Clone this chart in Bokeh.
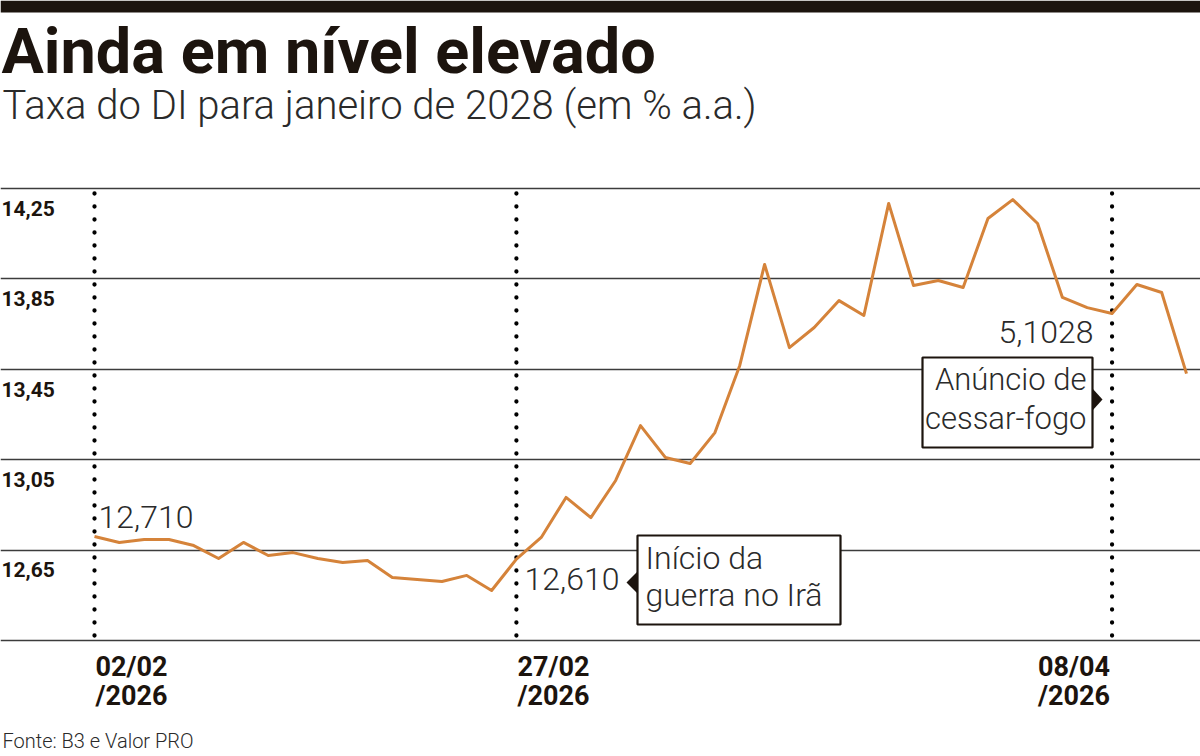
from bokeh.plotting import figure
from bokeh.models import Range1d, Grid, FixedTicker, Label, BoxAnnotation, PolyAnnotation
from bokeh.core.properties import value
from bokeh.embed import file_html
from bokeh.resources import INLINE

# ---------------- data ----------------
title_text = "Ainda em nível elevado"
subtitle_text = "Taxa do DI para janeiro de 2028 (em % a.a.)"
source_text = "Fonte: B3 e Valor PRO"

rates = [12.71, 12.684, 12.697, 12.697, 12.670, 12.613, 12.684, 12.626, 12.639, 12.613,
         12.595, 12.604, 12.529, 12.520, 12.511, 12.538, 12.471, 12.61, 12.706, 12.883,
         12.794, 12.958, 13.201, 13.060, 13.033, 13.170, 13.467, 13.914, 13.546, 13.635,
         13.754, 13.688, 14.184, 13.821, 13.843, 13.812, 14.117, 14.201, 14.095, 13.768,
         13.723, 13.697, 13.825, 13.790, 13.431]
day_index = list(range(len(rates)))

grid_values = [12.25, 12.65, 13.05, 13.45, 13.85, 14.25]
tick_values = [12.65, 13.05, 13.45, 13.85, 14.25]
tick_labels = ["12,65", "13,05", "13,45", "13,85", "14,25"]

event_index = [0, 17, 41]
event_day = ["02/02", "27/02", "08/04"]
event_year = ["/2026", "/2026", "/2026"]

first_label = "12,710"
war_label = "12,610"
ceasefire_label = "5,1028"
war_note = ["Início da", "guerra no Irã"]
ceasefire_note = ["Anúncio de", "cessar-fogo"]

# ---------------- layout ----------------
W, H = 1200, 756
PXU = (1186 - 94) / 44.0      # pixels per trading day
PPU = 226.0                   # pixels per percentage point
x_start = -94 / PXU
x_end = (W - 94) / PXU
y_top_val = 14.25 + 188 / PPU
y_bot_val = 14.25 - (H - 188) / PPU

INK = "#1c140e"
TXT = "#2a2a2a"
ORANGE = "#d5833a"
LIGHT = "Roboto Light"
K = 0.33  # baseline correction factor

p = figure(width=W, height=H, x_range=Range1d(x_start, x_end), y_range=Range1d(y_bot_val, y_top_val),
           min_border=0, toolbar_location=None, output_backend="svg",
           x_axis_location=None, y_axis_location=None, outline_line_color=None,
           background_fill_color="white", border_fill_color="white")
p.xgrid.visible = False
p.ygrid.visible = False

def sy(t):  # top-origin pixel -> screen units (bottom origin)
    return H - t

def tb(t, size):  # baseline at top-origin pixel t for font size
    return H - t + K * size

# top black bar
p.add_layout(BoxAnnotation(left=0, right=W, bottom=sy(12), top=sy(0),
                           left_units="screen", right_units="screen",
                           top_units="screen", bottom_units="screen",
                           fill_color=INK, fill_alpha=1, line_color=None))

# titles
p.add_layout(Label(x=1, y=tb(72, 63), x_units="screen", y_units="screen", text=title_text,
                   text_font="Roboto", text_font_style="bold", text_font_size="63px",
                   text_color=INK, text_baseline="alphabetic"))
p.add_layout(Label(x=2, y=tb(118, 40), x_units="screen", y_units="screen", text=subtitle_text,
                   text_font=LIGHT, text_font_size="40px",
                   text_color=TXT, text_baseline="alphabetic"))
p.add_layout(Label(x=2, y=tb(747, 20), x_units="screen", y_units="screen", text=source_text,
                   text_font=LIGHT, text_font_size="20px",
                   text_color=TXT, text_baseline="alphabetic"))

# horizontal grid lines
p.add_layout(Grid(dimension=1, ticker=FixedTicker(ticks=grid_values),
                  grid_line_color="#3c3c3c", grid_line_width=1.6))

# y tick labels (below each line)
p.text(x=[x_start + 1 / PXU] * len(tick_values), y=tick_values, text=tick_labels,
       y_offset=27 - K * 22, text_font=value("Roboto"), text_font_style="bold",
       text_font_size="21px", text_color=INK, text_baseline="alphabetic", text_align="left")

# dotted event lines
p.segment(x0=event_index, x1=event_index,
          y0=[grid_values[-1] - 5 / PPU] * 3, y1=[grid_values[0] + 3 / PPU] * 3,
          line_color="black", line_width=4.3, line_dash="0 13", line_cap="round")

# series
p.line(day_index, rates, line_color=ORANGE, line_width=3, line_join="round")

# x labels
XF = 27
for sl, off, align in ((slice(0, 2), 1, "left"), (slice(2, 3), -2, "right")):
    p.text(x=event_index[sl], y=[grid_values[0]] * len(event_index[sl]), text=event_day[sl],
           x_offset=off, y_offset=35 - K * XF,
           text_font=value("Roboto"), text_font_style="bold", text_font_size=f"{XF}px",
           text_color=INK, text_align=align, text_baseline="alphabetic")
    p.text(x=event_index[sl], y=[grid_values[0]] * len(event_index[sl]), text=event_year[sl],
           x_offset=off, y_offset=64 - K * XF,
           text_font=value("Roboto"), text_font_style="bold", text_font_size=f"{XF}px",
           text_color=INK, text_align=align, text_baseline="alphabetic")

# value annotations
def lab(x, y, text, align="left", size=32):
    p.add_layout(Label(x=x, y=tb(y, size), x_units="screen", y_units="screen", text=text,
                       text_font=LIGHT, text_font_size=f"{size}px", text_color=TXT,
                       text_align=align, text_baseline="alphabetic"))

lab(98, 527, first_label)
lab(524, 589, war_label)
lab(1093, 342, ceasefire_label, align="right")

# boxes
def box(l, r, t, b):
    p.add_layout(BoxAnnotation(left=l, right=r, top=sy(t), bottom=sy(b),
                               left_units="screen", right_units="screen",
                               top_units="screen", bottom_units="screen",
                               fill_color="white", fill_alpha=1,
                               line_color=INK, line_alpha=1, line_width=2.2))

box(637, 840, 535, 624)
lab(645, 568, war_note[0], size=32)
lab(645, 605, war_note[1], size=32)
p.add_layout(PolyAnnotation(xs=[637, 637, 626], ys=[sy(571), sy(593), sy(582)],
                            xs_units="screen", ys_units="screen",
                            fill_color=INK, fill_alpha=1, line_color=None))

box(922, 1092, 357, 447)
lab(1086, 389, ceasefire_note[0], align="right", size=31)
lab(1086, 428, ceasefire_note[1], align="right", size=31)
p.add_layout(PolyAnnotation(xs=[1092, 1092, 1102], ys=[sy(388), sy(410), sy(399)],
                            xs_units="screen", ys_units="screen",
                            fill_color=INK, fill_alpha=1, line_color=None))

open("out.html", "w").write(file_html(p, INLINE))
